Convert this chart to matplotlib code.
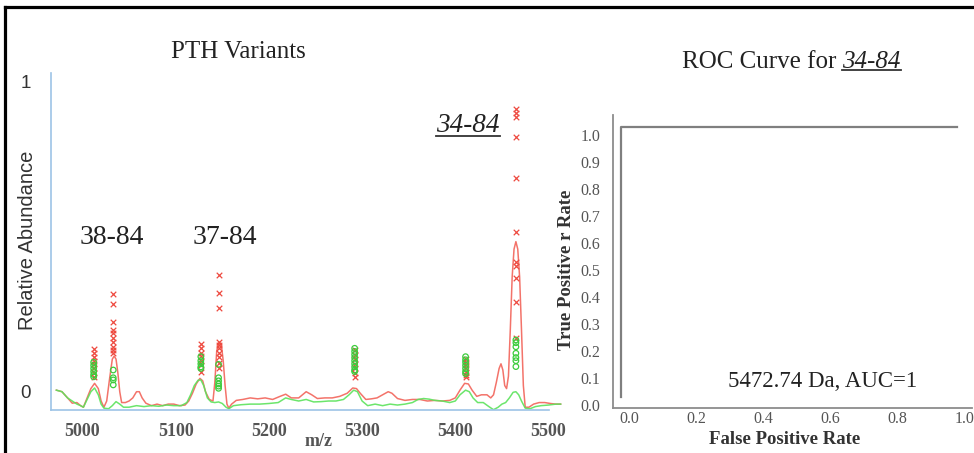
import matplotlib
matplotlib.use("Agg")
import matplotlib.pyplot as plt
import matplotlib.transforms as mtransforms
from matplotlib.lines import Line2D
import numpy as np

# ---------------- data ----------------
red_mz = [4972, 4978, 4984, 4989, 4994, 4998, 5001, 5005, 5009, 5013, 5017, 5020, 5023, 5026,
          5029, 5032, 5034, 5036, 5038, 5040, 5042, 5046, 5050, 5054, 5058, 5061, 5064, 5068,
          5074, 5080, 5086, 5092, 5098, 5104, 5110, 5114, 5118, 5122, 5126, 5129, 5132, 5136,
          5140, 5142, 5144, 5146, 5149, 5151, 5153, 5155, 5157, 5160, 5165, 5172, 5180, 5188,
          5196, 5204, 5212, 5218, 5224, 5232, 5240, 5246, 5252, 5260, 5268, 5276, 5284, 5290,
          5294, 5298, 5304, 5310, 5316, 5322, 5328, 5332, 5338, 5346, 5354, 5362, 5370, 5378,
          5386, 5394, 5400, 5405, 5410, 5414, 5418, 5423, 5428, 5434, 5438, 5441, 5444, 5447,
          5449, 5451, 5453, 5455, 5457, 5459, 5461, 5463, 5465, 5467, 5469, 5471, 5473, 5475,
          5479, 5484, 5490, 5496, 5502, 5508, 5513]
red_int = [0.005, 0.0, -0.02, -0.037, -0.035, -0.045, -0.05, -0.02, 0.01, 0.027, 0.01, -0.03, -0.05, -0.03,
           0.04, 0.105, 0.115, 0.105, 0.06, 0.0, -0.035, -0.035, -0.03, -0.02, 0.0, 0.0, -0.02, -0.037,
           -0.045, -0.04, -0.045, -0.04, -0.04, -0.045, -0.043, -0.03, -0.005, 0.025, 0.043, 0.035, 0.0, -0.025,
           -0.03, 0.03, 0.13, 0.157, 0.15, 0.1, 0.02, -0.04, -0.053, -0.04, -0.028, -0.025, -0.02, -0.023,
           -0.02, -0.025, -0.015, -0.008, -0.02, -0.02, 0.0, -0.01, -0.022, -0.02, -0.02, -0.015, -0.005, 0.012,
           0.01, -0.005, -0.025, -0.023, -0.02, -0.01, 0.0, -0.005, -0.022, -0.028, -0.025, -0.025, -0.03, -0.028,
           -0.03, -0.028, -0.02, 0.005, 0.027, 0.025, 0.005, -0.015, -0.01, -0.01, -0.02, -0.01, 0.03, 0.075,
           0.09, 0.07, 0.02, 0.01, 0.05, 0.2, 0.37, 0.46, 0.484, 0.46, 0.37, 0.2, 0.02, -0.05,
           -0.05, -0.04, -0.035, -0.035, -0.038, -0.04, -0.04]

green_mz = [4972, 4978, 4984, 4989, 4994, 4998, 5001, 5005, 5009, 5013, 5017, 5020, 5023, 5028,
            5032, 5036, 5040, 5044, 5050, 5058, 5066, 5074, 5082, 5090, 5098, 5106, 5112, 5116,
            5120, 5124, 5127, 5130, 5134, 5138, 5142, 5146, 5150, 5154, 5157, 5162, 5170, 5180,
            5190, 5200, 5210, 5218, 5224, 5232, 5240, 5248, 5256, 5264, 5272, 5280, 5286, 5291,
            5295, 5300, 5306, 5314, 5322, 5330, 5338, 5346, 5354, 5360, 5366, 5372, 5378, 5386,
            5394, 5400, 5405, 5411, 5415, 5419, 5424, 5430, 5436, 5441, 5446, 5450, 5454, 5458,
            5462, 5465, 5468, 5471, 5475, 5480, 5486, 5492, 5500, 5508, 5513]
green_int = [0.005, 0.0, -0.02, -0.03, -0.04, -0.045, -0.05, -0.025, 0.0, 0.012, -0.01, -0.04, -0.053, -0.055,
             -0.045, -0.032, -0.04, -0.05, -0.05, -0.045, -0.048, -0.045, -0.047, -0.043, -0.045, -0.045, -0.035, -0.01,
             0.02, 0.037, 0.038, 0.02, -0.02, -0.033, -0.035, -0.033, -0.038, -0.05, -0.055, -0.045, -0.042, -0.04,
             -0.04, -0.038, -0.035, -0.02, -0.025, -0.03, -0.025, -0.033, -0.032, -0.03, -0.03, -0.025, -0.01, 0.005,
             0.0, -0.03, -0.045, -0.04, -0.045, -0.04, -0.043, -0.04, -0.035, -0.025, -0.022, -0.024, -0.028, -0.03,
             -0.035, -0.03, -0.01, 0.005, 0.0, -0.02, -0.035, -0.035, -0.048, -0.058, -0.05, -0.04, -0.035, -0.02,
             -0.002, 0.0, -0.01, -0.03, -0.053, -0.055, -0.048, -0.045, -0.043, -0.04, -0.04]

# scatter columns: m/z -> values
red_x_cols = {
    5012: [0.138, 0.125, 0.112, 0.100, 0.088, 0.075, 0.060, 0.048],
    5033: [0.314, 0.282, 0.226, 0.200, 0.190, 0.173, 0.160, 0.145, 0.135, 0.125],
    5127: [0.153, 0.140, 0.125, 0.115, 0.100, 0.085, 0.065],
    5146: [0.376, 0.317, 0.269, 0.161, 0.150, 0.140, 0.125, 0.113, 0.092, 0.075],
    5292: [0.135, 0.120, 0.105, 0.090, 0.075, 0.060, 0.048],
    5411: [0.105, 0.095, 0.085, 0.075, 0.065, 0.055, 0.048],
    5465: [0.911, 0.898, 0.885, 0.823, 0.690, 0.516, 0.419, 0.405, 0.366, 0.290, 0.172],
}
green_o_cols = {
    5012: [0.095, 0.085, 0.075, 0.065, 0.055, 0.048],
    5033: [0.070, 0.045, 0.038, 0.022],
    5127: [0.113, 0.100, 0.090, 0.080, 0.075],
    5146: [0.088, 0.045, 0.035, 0.025, 0.018, 0.011],
    5292: [0.140, 0.130, 0.120, 0.110, 0.100, 0.090, 0.080, 0.070, 0.065],
    5411: [0.113, 0.103, 0.095, 0.085, 0.075, 0.065, 0.058],
    5465: [0.167, 0.158, 0.145, 0.124, 0.110, 0.100, 0.081],
}

mz_ticks = [5000, 5100, 5200, 5300, 5400, 5500]
abund_ticks = [0, 1]
roc_fpr = [0.0, 0.0, 1.0]
roc_tpr = [0.0, 1.0, 1.0]
roc_ticks_x = [0.0, 0.2, 0.4, 0.6, 0.8, 1.0]
roc_ticks_y = [0.0, 0.1, 0.2, 0.3, 0.4, 0.5, 0.6, 0.7, 0.8, 0.9, 1.0]

# ---------------- figure ----------------
W, H = 974, 453
DPI = 100
fig = plt.figure(figsize=(W / DPI, H / DPI), dpi=DPI)
fig.patch.set_facecolor("white")

def fx(px):
    return px / W

def fy(py):
    return 1 - py / H

SERIF = "Liberation Serif"
SANS = "Liberation Sans"

# ---- left spectrum axes ----
axL = fig.add_axes([fx(50.5), fy(410), (562.5 - 50.5) / W, (410 - 73) / H])
red_c = "#f2645a"
green_c = "#5ce35c"
axL.plot(red_mz, red_int, color=red_c, lw=1.1, alpha=0.9, zorder=2)
axL.plot(green_mz, green_int, color=green_c, lw=1.1, alpha=0.9, zorder=2)
for mz, vals in red_x_cols.items():
    axL.scatter([mz] * len(vals), vals, marker="x", s=16, color="#ee4a40", linewidths=0.9, zorder=3)
for mz, vals in green_o_cols.items():
    axL.scatter([mz] * len(vals), vals, marker="o", s=16, facecolors="none",
                edgecolors="#3ccc3c", linewidths=0.9, zorder=4)

axL.set_xlim(4965.7, 5515)
axL.set_ylim(-0.059, 1.028)
for s in ["top", "right"]:
    axL.spines[s].set_visible(False)
for s in ["left", "bottom"]:
    axL.spines[s].set_color("#9dc3e6")
    axL.spines[s].set_linewidth(1.2)
axL.spines["bottom"].set_bounds(4965.7, 5500)
axL.set_xticks(mz_ticks)
axL.set_xticklabels([str(t) for t in mz_ticks], fontfamily=SERIF, fontweight="bold",
                    fontsize=13, color="#555555")
axL.set_yticks(abund_ticks)
axL.set_yticklabels([str(t) for t in abund_ticks], fontfamily=SANS, fontsize=13.5, color="#333333")
axL.tick_params(axis="x", length=0, pad=9)
axL.tick_params(axis="y", length=0, pad=14)
axL.patch.set_alpha(0)

# ---- right ROC axes ----
axR = fig.add_axes([fx(613), fy(408.3), (972 - 613) / W, (408.3 - 115) / H])
offset = mtransforms.ScaledTranslation(-8 / DPI, 8 / DPI, fig.dpi_scale_trans)
axR.plot(roc_fpr, roc_tpr, color="#7f7f7f", lw=1.6, transform=axR.transData + offset,
         clip_on=False)
axR.set_xlim(-0.0476, 1.0208)
axR.set_ylim(-0.0122, 1.074)
for s in ["top", "right"]:
    axR.spines[s].set_visible(False)
for s in ["left", "bottom"]:
    axR.spines[s].set_color("#8c8c8c")
    axR.spines[s].set_linewidth(1.3)
axR.set_xticks(roc_ticks_x)
axR.set_xticklabels([f"{t:.1f}" for t in roc_ticks_x], fontfamily=SERIF,
                    fontsize=11.5, color="#555555")
axR.set_yticks(roc_ticks_y)
axR.set_yticklabels([f"{t:.1f}" for t in roc_ticks_y], fontfamily=SERIF,
                    fontsize=11.5, color="#555555")
axR.tick_params(axis="x", length=0, pad=2)
axR.tick_params(axis="y", length=0, pad=9)
axR.patch.set_alpha(0)

# ---------------- texts ----------------
fig.text(fx(238.5), fy(51.7), "PTH Variants", fontfamily=SERIF, fontsize=18,
         ha="center", va="center", color="#222222")
fig.text(fx(28), fy(240), "Relative Abundance", fontfamily=SANS, fontsize=14.5,
         rotation=90, ha="center", va="center", color="#333333")
fig.text(fx(112), fy(238), "38-84", fontfamily=SERIF, fontsize=20,
         ha="center", va="center", color="#222222")
fig.text(fx(225), fy(238), "37-84", fontfamily=SERIF, fontsize=20,
         ha="center", va="center", color="#222222")
fig.text(fx(319), fy(441.7), "m/z", fontfamily=SERIF, fontweight="bold", fontsize=13,
         ha="center", va="center", color="#555555")
fig.text(fx(566.5), fy(270), "True Positive r Rate", fontfamily=SERIF, fontweight="bold",
         fontsize=13.5, rotation=90, ha="center", va="center", color="#333333")
fig.text(fx(785), fy(440), "False Positive Rate", fontfamily=SERIF, fontweight="bold",
         fontsize=13.5, ha="center", va="center", color="#333333")
fig.text(fx(823), fy(381.7), "5472.74 Da, AUC=1", fontfamily=SERIF, fontsize=16.5,
         ha="center", va="center", color="#222222")

renderer = fig.canvas.get_renderer()

def underline(t, gap_px, color="#333333", lw=1.3):
    bb = t.get_window_extent(renderer=renderer)
    yline = bb.y0 + gap_px
    fig.add_artist(Line2D([bb.x0 / W, bb.x1 / W], [yline / H, yline / H],
                          transform=fig.transFigure, color=color, lw=lw))

t34 = fig.text(fx(468), fy(126), "34-84", fontfamily=SERIF, fontstyle="italic", fontsize=19.5,
               ha="center", va="center", color="#222222")
underline(t34, 3)

troc = fig.text(fx(682), fy(61.7), "ROC Curve for", fontfamily=SERIF, fontsize=18,
                ha="left", va="center", color="#222222")
bbroc = troc.get_window_extent(renderer=renderer)
troc2 = fig.text((bbroc.x1 + 6) / W, fy(61.7), "34-84", fontfamily=SERIF, fontstyle="italic",
                 fontsize=18, ha="left", va="center", color="#222222")
underline(troc2, 3)

# ---- outer frame ----
fr_x = fx(5)
fr_y = fy(6.7)
fig.add_artist(Line2D([fr_x, fr_x], [0, fr_y], transform=fig.transFigure, color="black", lw=2.3,
                      solid_capstyle="projecting"))
fig.add_artist(Line2D([fr_x, 1], [fr_y, fr_y], transform=fig.transFigure, color="black", lw=2.3,
                      solid_capstyle="projecting"))

fig.savefig("out.png", dpi=DPI)
